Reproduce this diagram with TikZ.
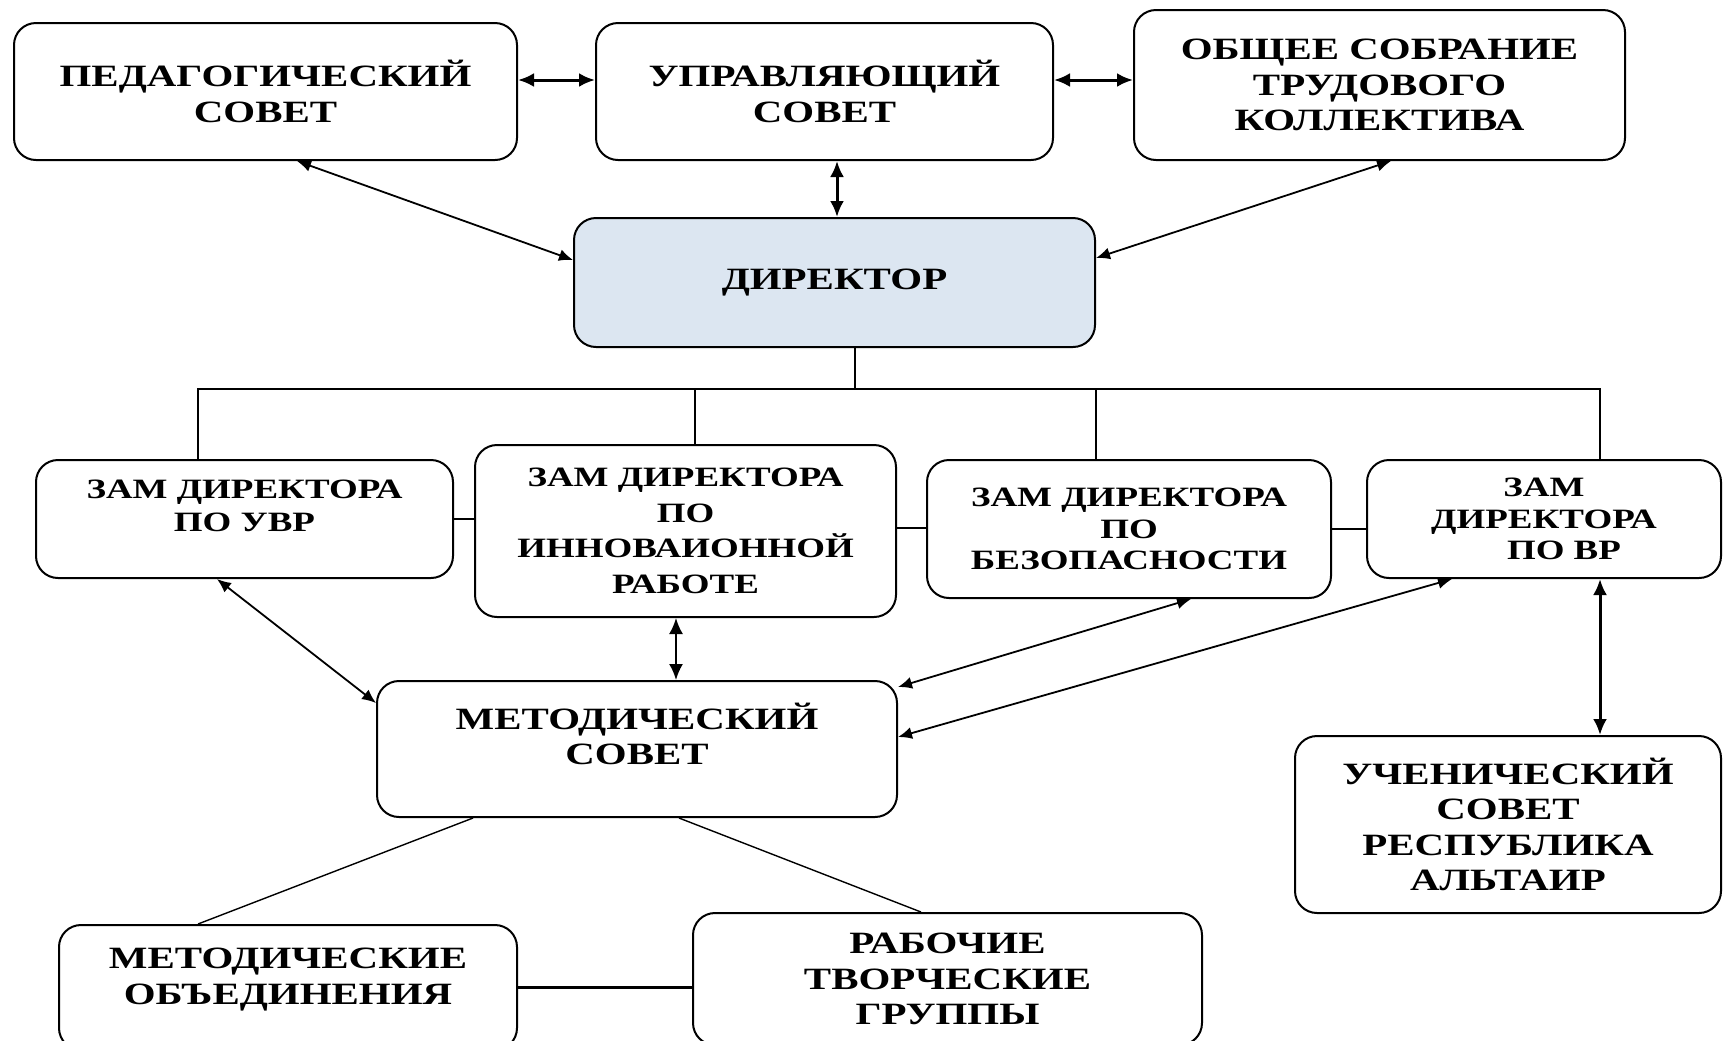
\documentclass[tikz,border=0pt]{standalone}
\usepackage{fontspec}
\setmainfont[FakeStretch=1.32]{Liberation Serif}
\usepackage{tikz}
\usetikzlibrary{arrows.meta}
\usepackage{xcolor}
\definecolor{dirblue}{RGB}{220,230,241}

\begin{document}
\begin{tikzpicture}[x=0.5pt, y=-0.5pt, >={Latex[length=7pt,width=6pt]},
    box/.style={draw, line width=1pt, rounded corners=11pt, inner sep=0pt, align=center, font=\bfseries\fontsize{15.5}{17.6}\selectfont},
    zam/.style={box, font=\bfseries\fontsize{14}{15.8}\selectfont},
    boxtext/.style={inner sep=0pt, align=center, font=\bfseries\fontsize{15.5}{17.6}\selectfont},
    link/.style={<->, line width=1.5pt, >={Latex[length=8pt,width=7pt]}},
    diag/.style={<->, line width=0.9pt},
    tree/.style={line width=1.2pt}]
    \useasboundingbox (0,0) rectangle (1723,1040);
    \node[box, minimum width=251.5pt, minimum height=68.5pt] (ped) at (265.5,91.5) {ПЕДАГОГИЧЕСКИЙ\\СОВЕТ};
    \node[box, minimum width=228.5pt, minimum height=68.5pt] (upr) at (824.5,91.5) {УПРАВЛЯЮЩИЙ\\СОВЕТ};
    \node[box, minimum width=245.5pt, minimum height=75pt] (obsh) at (1379.5,85) {ОБЩЕЕ СОБРАНИЕ\\ТРУДОВОГО\\КОЛЛЕКТИВА};
    \node[box, fill=dirblue, minimum width=260.5pt, minimum height=64.5pt] (dir) at (834.5,282.5) {ДИРЕКТОР};
    \draw[link] ([yshift=5.75pt]ped.east) -- ([yshift=5.75pt]upr.west);
    \draw[link] ([yshift=5.75pt]upr.east) -- ([yshift=5.75pt]upr.east -| obsh.west);
    \draw[link] ([xshift=6.25pt]upr.south) -- ([xshift=6.25pt]upr.south |- dir.north);
    \draw[diag] ([xshift=15.75pt]ped.south) -- ([yshift=11.25pt]dir.west);
    \draw[diag] ([xshift=5.75pt]obsh.south) -- ([yshift=12.25pt]dir.east);

    \node[zam, minimum width=208.5pt, minimum height=59pt, label={[boxtext,font=\bfseries\fontsize{14}{16.5}\selectfont,yshift=6.75pt]center:{ЗАМ ДИРЕКТОРА\\ПО УВР}}] (uvr) at (244.5,519) {};
    \node[zam, font=\bfseries\fontsize{14}{17.8}\selectfont, minimum width=210.5pt, minimum height=86pt] (inn) at (685.5,531) {ЗАМ ДИРЕКТОРА\\ПО\\ИННОВАИОННОЙ\\РАБОТЕ};
    \node[zam, minimum width=202pt, minimum height=69pt] (bez) at (1129,529) {ЗАМ ДИРЕКТОРА\\ПО\\БЕЗОПАСНОСТИ};
    \node[zam, minimum width=177pt, minimum height=59pt] (vr) at (1544,519) {ЗАМ\\ДИРЕКТОРА\\\hspace*{20pt}ПО ВР};
    \coordinate (busL) at (198,389);
    \coordinate (busR) at (1600,389);
    \draw[tree] (uvr.north -| busL) -- (busL) -- (busR) -- (vr.north -| busR);
    \draw[tree] ([xshift=10.25pt]dir.south) -- ([xshift=10.25pt]dir.south |- busL);
    \draw[tree] ([xshift=4.75pt]inn.north) -- ([xshift=4.75pt]inn.north |- busL);
    \draw[tree] ([xshift=-16.5pt]bez.north) -- ([xshift=-16.5pt]bez.north |- busL);
    \draw[tree] (uvr.east) -- (uvr.east -| inn.west);
    \draw[tree] ([yshift=1.5pt]inn.east) -- ([yshift=1.5pt]inn.east -| bez.west);
    \draw[tree] (bez.east) -- (bez.east -| vr.west);

    \node[box, minimum width=260pt, minimum height=68pt, label={[boxtext,yshift=7.5pt]center:{МЕТОДИЧЕСКИЙ\\СОВЕТ}}] (met) at (637,749) {};
    \node[box, minimum width=213pt, minimum height=88.5pt] (uch) at (1508,824.5) {УЧЕНИЧЕСКИЙ\\СОВЕТ\\РЕСПУБЛИКА\\АЛЬТАИР};
    \node[box, minimum width=229pt, minimum height=62.5pt, label={[boxtext,yshift=4pt]center:{МЕТОДИЧЕСКИЕ\\ОБЪЕДИНЕНИЯ}}] (mo) at (288,987.5) {};
    \node[box, minimum width=254.5pt, minimum height=66pt] (rtg) at (947.5,979) {РАБОЧИЕ\\ТВОРЧЕСКИЕ\\ГРУППЫ};
    \draw[diag] ([xshift=-13.75pt]uvr.south) -- ([yshift=23pt]met.west);
    \draw[link, line width=1pt] ([xshift=-4.75pt]inn.south) -- ([xshift=-4.75pt]inn.south |- met.north);
    \draw[diag] ([xshift=31pt]bez.south) -- ([yshift=-3.5pt]met.north east);
    \draw[diag] ([xshift=-46pt]vr.south) -- ([yshift=6pt]met.east);
    \draw[link] ([xshift=28pt]vr.south) -- ([xshift=28pt]vr.south |- uch.north);
    \draw[line width=0.7pt] ([xshift=-82pt]met.south) -- ([xshift=-45pt]mo.north);
    \draw[line width=0.7pt] ([xshift=21pt]met.south) -- ([xshift=-13.25pt]rtg.north);
    \draw[tree] (mo.east) -- (mo.east -| rtg.west);
\end{tikzpicture}
\end{document}
